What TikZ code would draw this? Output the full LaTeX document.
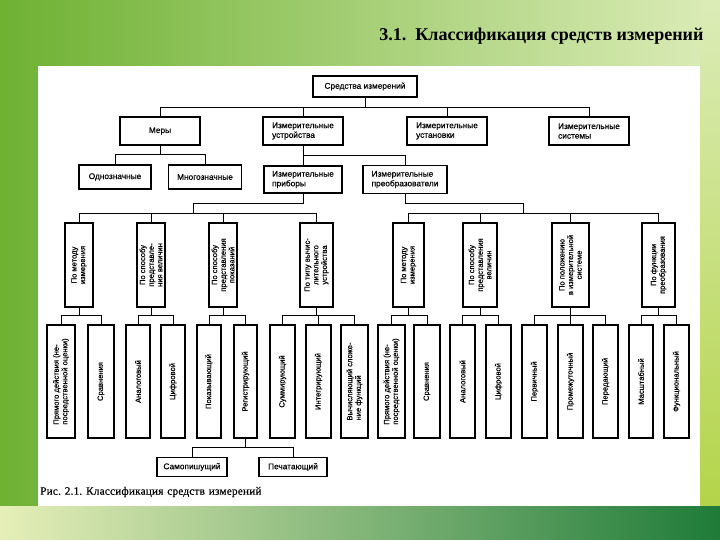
\documentclass[tikz,border=0pt]{standalone}
\usepackage{fontspec}
\setmainfont{Liberation Serif}
\newfontfamily\boxfont[FakeBold=0.4]{Liberation Sans}
\newfontfamily\capfont[LetterSpace=1.5,WordSpace=1.3,FakeBold=0.3]{Liberation Serif}
\definecolor{bgL}{HTML}{6EB133}
\definecolor{bgM}{HTML}{B4D44A}
\definecolor{bgR}{HTML}{DCECB8}
\definecolor{btL}{HTML}{E6EFB8}
\definecolor{btM}{HTML}{C6DE5C}
\definecolor{btR}{HTML}{1F7B39}
\begin{document}
\begin{tikzpicture}[x=1pt,y=-1pt,
  bx/.style={draw, line width=1.2pt, fill=white, inner sep=1.5pt,
    font=\boxfont\fontsize{8.3}{9.6}\selectfont, align=left},
  vb/.style={bx, rotate=90, align=center, font=\boxfont\fontsize{7.6}{8.6}\selectfont, minimum width=84},
  lf/.style={bx, rotate=90, align=left, font=\boxfont\fontsize{7.6}{8.6}\selectfont, minimum width=113},
  ln/.style={line width=0.8pt}]
\useasboundingbox (0,0) rectangle (720,540);
% background
\shade[left color=bgL, middle color=bgM, right color=bgR] (0,0) rectangle (720,540);
\shade[top color=bgR, bottom color=bgM] (700,0) rectangle (720,506);
\shade[left color=btL, middle color=btM, right color=btR] (0,506) rectangle (720,540);
\fill[white] (38,66) rectangle (700,506);
% title and caption
\node[anchor=east, font=\bfseries\fontsize{18}{21}\selectfont] (title) at (707,36) {3.1.\ \ Классификация средств измерений};
\node[anchor=west, font=\capfont\fontsize{11.3}{13}\selectfont, inner sep=0pt] (cap) at (40,492) {Рис.\ 2.1.\ Классификация средств измерений};
% row 1-3
\node[bx, minimum width=104, minimum height=21] (root) at (365,86.5) {Средства измерений};
\node[bx, minimum width=80, minimum height=28] (mery) at (160,131) {Меры};
\node[bx, minimum width=80, minimum height=28] (ustr) at (303,131) {Измерительные\\устройства};
\node[bx, minimum width=80, minimum height=28] (ustan) at (447,131) {Измерительные\\установки};
\node[bx, minimum width=80, minimum height=28] (sist) at (589,131) {Измерительные\\системы};
\node[bx, minimum width=72, minimum height=24] (odno) at (115,177) {Однозначные};
\node[bx, minimum width=73, minimum height=24] (mnogo) at (205,177) {Многозначные};
\node[bx, minimum width=78, minimum height=27] (prib) at (303,179.5) {Измерительные\\приборы};
\node[bx, minimum width=84, minimum height=28] (preo) at (405,179.5) {Измерительные\\преобразователи};
% categories
\node[vb, minimum height=28] (c1) at (79,265) {По методу\\измерения};
\node[vb, minimum height=28] (c2) at (151,265) {По способу\\представле-\\ния величин};
\node[vb, minimum height=28] (c3) at (223,265) {По способу\\представления\\показаний};
\node[vb, minimum height=33] (c4) at (316.5,265) {По типу вычис-\\лительного\\устройства};
\node[vb, minimum height=31] (c5) at (408.5,265) {По методу\\измерения};
\node[vb, minimum height=34] (c6) at (480,265) {По способу\\представления\\величин};
\node[vb, minimum height=37] (c7) at (570.5,265) {По положению\\в измерительной\\системе};
\node[vb, minimum height=33] (c8) at (658.5,265) {По функции\\преобразования};
% leaves
\node[lf, minimum height=28] (l1) at (61,381.5) {Прямого действия (не-\\посредственной оценки)};
\node[lf, minimum height=26] (l2) at (101,381.5) {Сравнения};
\node[lf, minimum height=24] (l3) at (138,381.5) {Аналоговый};
\node[lf, minimum height=24] (l4) at (173,381.5) {Цифровой};
\node[lf, minimum height=24] (l5) at (209,381.5) {Показывающий};
\node[lf, minimum height=23] (l6) at (245.5,381.5) {Регистрирующий};
\node[lf, minimum height=25] (l7) at (282.5,381.5) {Суммирующий};
\node[lf, minimum height=25] (l8) at (318.5,381.5) {Интегрирующий};
\node[lf, minimum height=27] (l9) at (354.5,381.5) {Вычисляющий сложе-\\ние функций};
\node[lf, minimum height=27] (l10) at (391.5,381.5) {Прямого действия (не-\\посредственной оценки)};
\node[lf, minimum height=26] (l11) at (427,381.5) {Сравнения};
\node[lf, minimum height=25] (l12) at (462.5,381.5) {Аналоговый};
\node[lf, minimum height=25] (l13) at (498.5,381.5) {Цифровой};
\node[lf, minimum height=25] (l14) at (534.5,381.5) {Первичный};
\node[lf, minimum height=25] (l15) at (570.5,381.5) {Промежуточный};
\node[lf, minimum height=25] (l16) at (605.5,381.5) {Передающий};
\node[lf, minimum height=24] (l17) at (641,381.5) {Масштабный};
\node[lf, minimum height=25] (l18) at (676.5,381.5) {Функциональный};
% bottom
\node[bx, minimum width=70, minimum height=19] (samo) at (192,467) {Самопишущий};
\node[bx, minimum width=68, minimum height=19] (pech) at (293,467) {Печатающий};
% connectors
\coordinate (b1) at (0,107);
\coordinate (b2) at (0,154);
\coordinate (b3) at (0,155);
\coordinate (b4) at (0,213);
\coordinate (b5) at (0,315);
\coordinate (b6) at (0,447);
\coordinate (j1) at (193,203);
\coordinate (j2) at (523,203);
\draw[ln] (root.south) -- (root.south |- b1);
\draw[ln] (mery.north) |- (sist.north |- b1) -- (sist.north);
\draw[ln] (ustr.north) -- (ustr.north |- b1);
\draw[ln] (ustan.north) -- (ustan.north |- b1);
\draw[ln] (mery.south) -- (mery.south |- b2);
\draw[ln] (odno.north) |- (mnogo.north |- b2) -- (mnogo.north);
\draw[ln] (ustr.south) -- (prib.north);
\draw[ln] (ustr.south |- b3) -| (preo.north);
\draw[ln] (prib.south) |- (j1) -- (j1 |- b4);
\draw[ln] (preo.south) |- (j2) -- (j2 |- b4);
\draw[ln] (c1.east) |- (c4.east |- b4) -- (c4.east);
\draw[ln] (c2.east) -- (c2.east |- b4);
\draw[ln] (c3.east) -- (c3.east |- b4);
\draw[ln] (c5.east) |- (c8.east |- b4) -- (c8.east);
\draw[ln] (c6.east) -- (c6.east |- b4);
\draw[ln] (c7.east) -- (c7.east |- b4);
% category to leaves
\draw[ln] (c1.west) -- (c1.west |- b5);
\draw[ln] (l1.east) |- (l2.east |- b5) -- (l2.east);
\draw[ln] (c2.west) -- (c2.west |- b5);
\draw[ln] (l3.east) |- (l4.east |- b5) -- (l4.east);
\draw[ln] (c3.west) -- (c3.west |- b5);
\draw[ln] (l5.east) |- (l6.east |- b5) -- (l6.east);
\draw[ln] (c4.west) -- (c4.west |- b5);
\draw[ln] (l7.east) |- (l9.east |- b5) -- (l9.east);
\draw[ln] (l8.east) -- (l8.east |- b5);
\draw[ln] (c5.west) -- (c5.west |- b5);
\draw[ln] (l10.east) |- (l11.east |- b5) -- (l11.east);
\draw[ln] (c6.west) -- (c6.west |- b5);
\draw[ln] (l12.east) |- (l13.east |- b5) -- (l13.east);
\draw[ln] (c7.west) -- (c7.west |- b5);
\draw[ln] (l14.east) |- (l16.east |- b5) -- (l16.east);
\draw[ln] (l15.east) -- (l15.east |- b5);
\draw[ln] (c8.west) -- (c8.west |- b5);
\draw[ln] (l17.east) |- (l18.east |- b5) -- (l18.east);
% register to bottom
\draw[ln] (l6.west) -- (l6.west |- b6);
\draw[ln] (samo.north) |- (pech.north |- b6) -- (pech.north);
\end{tikzpicture}
\end{document}
